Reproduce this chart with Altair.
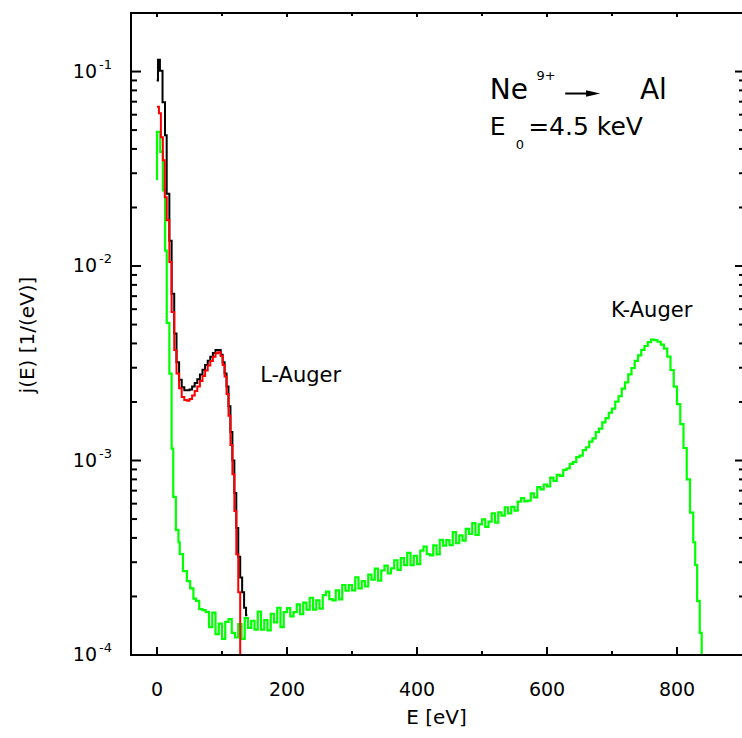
import altair as alt
import pandas as pd

# ---------------- data ----------------
green_E = [-1.5, 0, 5, 9, 12.5, 15, 19, 22.5, 25, 29, 33, 35, 40, 46, 51, 56, 60, 65, 70,
           75, 80, 85, 90, 95, 100, 105, 110, 115, 120, 125, 130, 135, 140, 145, 150, 155, 160,
           165, 170, 175, 180, 185, 190, 195, 200, 205, 210, 215, 220, 225, 230, 235, 240, 245,
           250, 255, 260, 265, 270, 275, 280, 285, 290, 295, 300, 305, 310, 315, 320, 325, 330,
           335, 340, 345, 350, 355, 360, 365, 370, 375, 380, 385, 390, 395, 400, 405, 410, 415,
           420, 425, 430, 435, 440, 445, 450, 455, 460, 465, 470, 475, 480, 485, 490, 495, 500,
           505, 510, 515, 520, 525, 530, 535, 540, 545, 550, 555, 560, 565, 570, 575, 580, 585,
           590, 595, 600, 605, 610, 615, 620, 625, 630, 635, 640, 645, 650, 655, 660, 665, 670,
           675, 680, 685, 690, 695, 700, 705, 710, 715, 720, 725, 730, 735, 740, 745, 750, 755,
           760, 765, 770, 775, 780, 785, 790, 795, 800, 805, 810, 815, 820, 825, 828, 831, 835,
           838, 841, 844]
green_j = [0.028, 0.049, 0.0386, 0.0245, 0.012, 0.0051, 0.0028, 0.00115, 0.00065, 0.00044,
           0.00038, 0.00033, 0.00027, 0.00024, 0.00022, 0.000195, 0.00019, 0.000172, 0.00017,
           1.66e-4, 1.39e-4, 1.65e-4, 1.28e-4, 1.45e-4, 1.21e-4, 1.48e-4, 1.53e-4, 1.30e-4,
           1.23e-4, 1.44e-4, 1.21e-4, 1.55e-4, 1.38e-4, 1.50e-4, 1.35e-4, 1.67e-4, 1.35e-4,
           1.51e-4, 1.34e-4, 1.63e-4, 1.47e-4, 1.75e-4, 1.39e-4, 1.66e-4, 1.74e-4, 1.58e-4,
           1.66e-4, 1.82e-4, 1.62e-4, 1.86e-4, 1.71e-4, 1.97e-4, 1.71e-4, 1.91e-4, 1.73e-4,
           2.03e-4, 2.12e-4, 1.94e-4, 1.91e-4, 2.15e-4, 1.93e-4, 2.29e-4, 2.14e-4, 2.29e-4,
           2.15e-4, 2.51e-4, 2.20e-4, 2.40e-4, 2.25e-4, 2.59e-4, 2.44e-4, 2.78e-4, 2.41e-4,
           2.72e-4, 2.88e-4, 2.63e-4, 2.79e-4, 3.07e-4, 2.74e-4, 3.15e-4, 2.90e-4, 3.35e-4,
           2.90e-4, 3.23e-4, 2.93e-4, 3.44e-4, 3.61e-4, 3.30e-4, 3.25e-4, 3.66e-4, 3.29e-4,
           3.91e-4, 3.65e-4, 3.90e-4, 3.67e-4, 4.28e-4, 3.76e-4, 4.12e-4, 3.87e-4, 4.45e-4,
           4.19e-4, 4.76e-4, 4.14e-4, 4.69e-4, 4.98e-4, 4.56e-4, 4.85e-4, 5.35e-4, 4.79e-4,
           5.41e-4, 5.21e-4, 5.75e-4, 5.35e-4, 5.77e-4, 5.52e-4, 6.15e-4, 6.41e-4, 6.17e-4,
           6.22e-4, 6.78e-4, 6.47e-4, 7.29e-4, 7.11e-4, 7.53e-4, 7.37e-4, 8.16e-4, 7.86e-4,
           8.43e-4, 8.34e-4, 8.95e-4, 9.10e-4, 9.60e-4, 9.80e-4, 1.04e-3, 1.06e-3, 1.13e-3,
           1.17e-3, 1.25e-3, 1.30e-3, 1.40e-3, 1.46e-3, 1.57e-3, 1.65e-3, 1.76e-3, 1.85e-3,
           2.01e-3, 2.14e-3, 2.34e-3, 2.52e-3, 2.77e-3, 2.99e-3, 3.25e-3, 3.47e-3, 3.71e-3,
           3.88e-3, 4.06e-3, 4.18e-3, 4.16e-3, 4.08e-3, 3.94e-3, 3.76e-3, 3.42e-3, 2.92e-3,
           2.40e-3, 1.95e-3, 1.54e-3, 1.16e-3, 8.0e-4, 5.4e-4, 3.8e-4, 2.9e-4, 1.9e-4, 1.3e-4,
           9.5e-5, 6e-5, 6e-5]

red_E = [0, 3, 6, 9, 12, 15, 19, 22.5, 26.5, 30, 34, 38, 42, 46, 50, 54, 58, 62, 66, 70, 74,
         78, 82, 86, 90, 94, 98, 101, 104, 107, 110, 113, 116, 119, 122, 125, 128, 131]
red_j = [0.066, 0.061, 0.046, 0.035, 0.0226, 0.0172, 0.0105, 0.0058, 0.0037, 0.0028, 0.00235,
         0.00212, 0.00205, 0.00203, 0.00207, 0.00216, 0.00228, 0.0024, 0.00256, 0.00272,
         0.0029, 0.00308, 0.00325, 0.00342, 0.00356, 0.0036, 0.00345, 0.0031, 0.0027, 0.0022,
         0.0017, 0.0012, 0.00085, 0.00055, 0.00033, 0.00021, 0.00004, 0.00004]

black_E = [-0.5, 1.5, 4.5, 8.5, 12.3, 14.9, 19, 22.5, 26.5, 30, 34, 38, 42, 46, 50, 54, 58, 62,
           66, 70, 74, 78, 82, 86, 90, 94, 98, 101, 104, 107, 110, 113, 116, 119, 122, 125, 128,
           131, 134, 137, 139]
black_j = [0.09, 0.115, 0.101, 0.0695, 0.047, 0.0235, 0.0135, 0.0072, 0.0045, 0.0032, 0.0026,
           0.00238, 0.0023, 0.0023, 0.00232, 0.0024, 0.0025, 0.00262, 0.00277, 0.00293, 0.0031,
           0.00326, 0.00342, 0.00357, 0.0037, 0.0037, 0.0035, 0.0032, 0.0028, 0.0024, 0.0019,
           0.0014, 0.001, 0.00068, 0.00045, 0.00032, 0.00025, 0.00021, 0.000175, 0.00016,
           0.00016]

x_major = [0, 200, 400, 600, 800]
x_minor = [100, 300, 500, 700]
x_labels = ["0", "200", "400", "600", "800"]
y_major = [1e-4, 1e-3, 1e-2, 1e-1]
y_exp = ["-4", "-3", "-2", "-1"]
y_minor = [m * d for d in (1e-4, 1e-3, 1e-2) for m in (2, 3, 4, 5, 6, 7, 8, 9)]

# annotations (data coordinates)
big_text = pd.DataFrame({"E": [512, 743], "j": [0.0726, 0.0726], "t": ["Ne", "Al"]})
sup_text = pd.DataFrame({"E": [584], "j": [0.091], "t": ["9+"]})
e_text = pd.DataFrame({"E": [512, 571], "j": [0.0469, 0.0469], "t": ["E", "=4.5 keV"]})
sub_text = pd.DataFrame({"E": [552], "j": [0.0402], "t": ["0"]})
auger_text = pd.DataFrame({"E": [221, 761], "j": [0.00254, 0.00547], "t": ["L-Auger", "K-Auger"]})
arrow_line = pd.DataFrame({"E": [628], "E2": [668], "j": [0.0771]})
arrow_head = pd.DataFrame({"E": [671], "j": [0.0771]})

# ---------------- chart ----------------
W, H = 611, 642
FONT = "DejaVu Sans"
xs = alt.Scale(domain=[-40, 900], nice=False, zero=False)
ys = alt.Scale(type="log", domain=[1e-4, 0.2], nice=False)
X = lambda f: alt.X(f, type="quantitative", scale=xs, axis=None)
Y = lambda f: alt.Y(f, type="quantitative", scale=ys, axis=None)


def series(E, j, color, sw=2):
    df = pd.DataFrame({"E": E, "j": j})
    return alt.Chart(df).mark_line(interpolate="step-after", clip=True, color=color,
                                   strokeWidth=sw).encode(x=X("E"), y=Y("j"))


one = pd.DataFrame({"a": [0]})
frame = [
    alt.Chart(one).mark_rule(color="black", strokeWidth=2).encode(
        x=alt.value(0), y=alt.value(0), y2=alt.value(H)),
    alt.Chart(one).mark_rule(color="black", strokeWidth=2).encode(
        x=alt.value(-1), x2=alt.value(W + 2), y=alt.value(H)),
    alt.Chart(one).mark_rule(color="black", strokeWidth=2).encode(
        x=alt.value(-1), x2=alt.value(W + 2), y=alt.value(0)),
]

dxM = pd.DataFrame({"t": x_major, "lab": x_labels})
dxm = pd.DataFrame({"t": x_minor})
dyM = pd.DataFrame({"t": y_major, "lab": ["10"] * 4, "exp": y_exp})
dym = pd.DataFrame({"t": y_minor})

ticks = [
    alt.Chart(dxM).mark_rule(color="black", strokeWidth=2).encode(x=X("t"), y=alt.value(H), y2=alt.value(H - 8)),
    alt.Chart(dxm).mark_rule(color="black", strokeWidth=2).encode(x=X("t"), y=alt.value(H), y2=alt.value(H - 4)),
    alt.Chart(dxM).mark_rule(color="black", strokeWidth=2).encode(x=X("t"), y=alt.value(0), y2=alt.value(4)),
    alt.Chart(dxm).mark_rule(color="black", strokeWidth=2).encode(x=X("t"), y=alt.value(0), y2=alt.value(3)),
    alt.Chart(dyM).mark_rule(color="black", strokeWidth=2).encode(y=Y("t"), x=alt.value(0), x2=alt.value(10)),
    alt.Chart(dym).mark_rule(color="black", strokeWidth=2).encode(y=Y("t"), x=alt.value(0), x2=alt.value(6)),
    alt.Chart(dyM).mark_rule(color="black", strokeWidth=2).encode(y=Y("t"), x=alt.value(W - 7), x2=alt.value(W + 1)),
    alt.Chart(dym).mark_rule(color="black", strokeWidth=2).encode(y=Y("t"), x=alt.value(W - 3), x2=alt.value(W + 1)),
]

labels = [
    alt.Chart(dxM).mark_text(font=FONT, fontSize=19, color="black", align="center", baseline="middle").encode(
        x=X("t"), y=alt.value(H + 35), text="lab:N"),
    alt.Chart(dyM).mark_text(font=FONT, fontSize=19, color="black", align="right", baseline="middle").encode(
        y=Y("t"), x=alt.value(-34), text="lab:N"),
    alt.Chart(dyM).mark_text(font=FONT, fontSize=13, color="black", align="left", baseline="middle", dy=-7).encode(
        y=Y("t"), x=alt.value(-32), text="exp:N"),
    alt.Chart(one).mark_text(font=FONT, fontSize=20, color="black", align="center", baseline="middle",
                             text="E [eV]").encode(x=alt.value(W / 2), y=alt.value(H + 63)),
    alt.Chart(one).mark_text(font=FONT, fontSize=20, color="black", align="center", baseline="middle",
                             angle=270, text="j(E) [1/(eV)]").encode(x=alt.value(-103), y=alt.value(322)),
]

annots = [
    alt.Chart(big_text).mark_text(font=FONT, fontSize=28, color="black", align="left", baseline="alphabetic").encode(
        x=X("E"), y=Y("j"), text="t:N"),
    alt.Chart(sup_text).mark_text(font=FONT, fontSize=13, color="black", align="left", baseline="alphabetic").encode(
        x=X("E"), y=Y("j"), text="t:N"),
    alt.Chart(e_text).mark_text(font=FONT, fontSize=25, color="black", align="left", baseline="alphabetic").encode(
        x=X("E"), y=Y("j"), text="t:N"),
    alt.Chart(sub_text).mark_text(font=FONT, fontSize=13, color="black", align="left", baseline="alphabetic").encode(
        x=X("E"), y=Y("j"), text="t:N"),
    alt.Chart(auger_text).mark_text(font=FONT, fontSize=21, color="black", align="center", baseline="alphabetic").encode(
        x=X("E"), y=Y("j"), text="t:N"),
    alt.Chart(arrow_line).mark_rule(color="black", strokeWidth=2).encode(x=X("E"), x2="E2:Q", y=Y("j")),
    alt.Chart(arrow_head).mark_point(shape="M -1 -0.45 L 1 0 L -1 0.45 Z", size=200, filled=True,
                                     color="black", opacity=1).encode(x=X("E"), y=Y("j")),
]

chart = alt.layer(
    series(green_E, green_j, "#00ff00", 2.2),
    series(black_E, black_j, "#000000"),
    series(red_E, red_j, "#ff0000"),
    *frame, *ticks, *labels, *annots,
).properties(
    width=W, height=H,
    padding={"left": 131, "top": 13, "right": 0, "bottom": 83},
    autosize=alt.AutoSizeParams(type="none"),
    background="white",
).configure_view(stroke=None)

chart.save("out.html", embed_options={"renderer": "svg", "actions": False})
